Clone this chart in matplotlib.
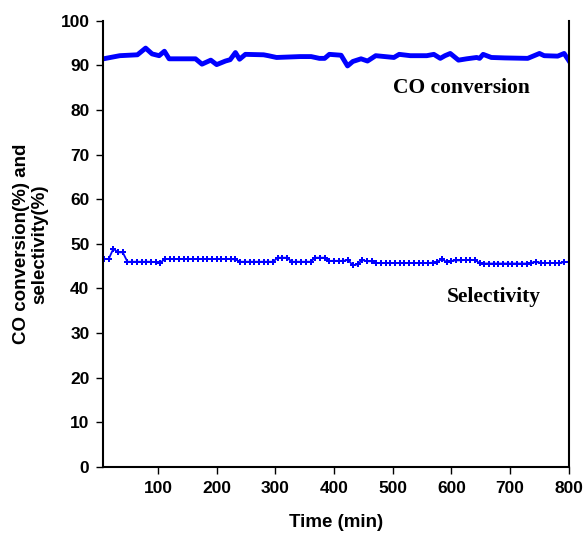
import matplotlib
matplotlib.use("Agg")
import matplotlib.pyplot as plt

# CO conversion (thick line) vertices
co_time = [7, 35, 65, 79, 90, 102, 111, 119, 164, 175, 190, 200, 215, 223, 232, 239, 249,
           280, 288, 302, 342, 361, 375, 384, 392, 412, 423, 432, 446, 457, 471, 502, 511,
           530, 558, 570, 581, 589, 598, 612, 626, 643, 648, 654, 668, 691, 730, 750, 758,
           781, 792, 800]
co_conv = [91.5, 92.2, 92.4, 93.9, 92.6, 92.2, 93.2, 91.5, 91.5, 90.3, 91.2, 90.2, 91.0, 91.3,
           92.9, 91.4, 92.5, 92.4, 92.2, 91.8, 92.0, 92.0, 91.6, 91.6, 92.5, 92.3, 89.9, 90.9,
           91.5, 91.0, 92.2, 91.8, 92.5, 92.2, 92.2, 92.5, 91.6, 92.2, 92.7, 91.2, 91.5, 91.8,
           91.6, 92.5, 91.8, 91.7, 91.6, 92.7, 92.2, 92.1, 92.7, 91.1]

# Selectivity (marker line)
sel_time = [8, 16, 24, 32, 40, 48, 56, 64, 72, 80, 88, 96, 104, 112, 120, 128, 136, 144,
            152, 160, 168, 176, 184, 192, 200, 208, 216, 224, 232, 240, 248, 256, 264, 272,
            280, 288, 296, 304, 312, 320, 328, 336, 344, 352, 360, 368, 376, 384, 392, 400,
            408, 416, 424, 432, 440, 448, 456, 464, 472, 480, 488, 496, 504, 512, 520, 528,
            536, 544, 552, 560, 568, 576, 584, 592, 600, 608, 616, 624, 632, 640, 648, 656,
            664, 672, 680, 688, 696, 704, 712, 720, 728, 736, 744, 752, 760, 768, 776, 784,
            792, 800]
selectivity = [46.6, 46.6, 48.9, 48.1, 48.1, 46.0, 46.0, 46.0, 46.0, 46.0, 46.0, 45.9, 45.8,
               46.6, 46.6, 46.6, 46.6, 46.6, 46.6, 46.6, 46.6, 46.6, 46.6, 46.6, 46.6, 46.6,
               46.6, 46.6, 46.5, 46.0, 46.0, 46.0, 46.0, 46.0, 46.0, 46.0, 46.0, 46.9, 46.9,
               46.9, 46.0, 46.0, 46.0, 46.0, 46.0, 46.9, 46.9, 46.9, 46.2, 46.2, 46.2, 46.2,
               46.4, 45.2, 45.4, 46.4, 46.1, 46.1, 45.7, 45.7, 45.7, 45.7, 45.7, 45.7, 45.7,
               45.7, 45.7, 45.7, 45.7, 45.7, 45.8, 46.0, 46.6, 45.9, 46.2, 46.3, 46.3, 46.4,
               46.4, 46.4, 45.7, 45.6, 45.6, 45.6, 45.6, 45.6, 45.6, 45.6, 45.6, 45.6, 45.6,
               45.8, 45.9, 45.8, 45.7, 45.7, 45.7, 45.7, 45.9, 46.0]

x_ticks = [100, 200, 300, 400, 500, 600, 700, 800]
y_ticks = [0, 10, 20, 30, 40, 50, 60, 70, 80, 90, 100]

fig = plt.figure(figsize=(5.84, 5.36), dpi=100)
ax = fig.add_axes([0.177, 0.129, 0.797, 0.832])

blue = "#0000ff"
ax.plot(co_time, co_conv, color=blue, lw=3.5, solid_joinstyle="round")
ax.plot(sel_time, selectivity, color=blue, lw=1.3, marker="P", markersize=4.2,
        markeredgewidth=0)

ax.set_xlim(7, 800)
ax.set_ylim(0, 100)
ax.set_xticks(x_ticks)
ax.set_yticks(y_ticks)

for lab in ax.get_xticklabels() + ax.get_yticklabels():
    lab.set_fontfamily("Liberation Sans")
    lab.set_fontweight("bold")
    lab.set_fontsize(12.5)

ax.tick_params(direction="out", length=5, width=1.0, colors="black", pad=5)
ax.spines["top"].set_visible(False)
for s in ["left", "bottom", "right"]:
    ax.spines[s].set_linewidth(1.5)

ax.set_xlabel("Time (min)", fontfamily="Liberation Sans", fontweight="bold",
              fontsize=13.5, labelpad=13)
ax.set_ylabel("CO conversion(%) and\nselectivity(%)", fontfamily="Liberation Sans",
              fontweight="bold", fontsize=13.5, labelpad=9, linespacing=1.05)

ax.text(617, 85, "CO conversion", fontfamily="Liberation Serif", fontweight="bold",
        fontsize=15.5, ha="center", va="center")
ax.text(672, 38, "Selectivity", fontfamily="Liberation Serif", fontweight="bold",
        fontsize=15.5, ha="center", va="center")

fig.savefig("out.png", dpi=100)
